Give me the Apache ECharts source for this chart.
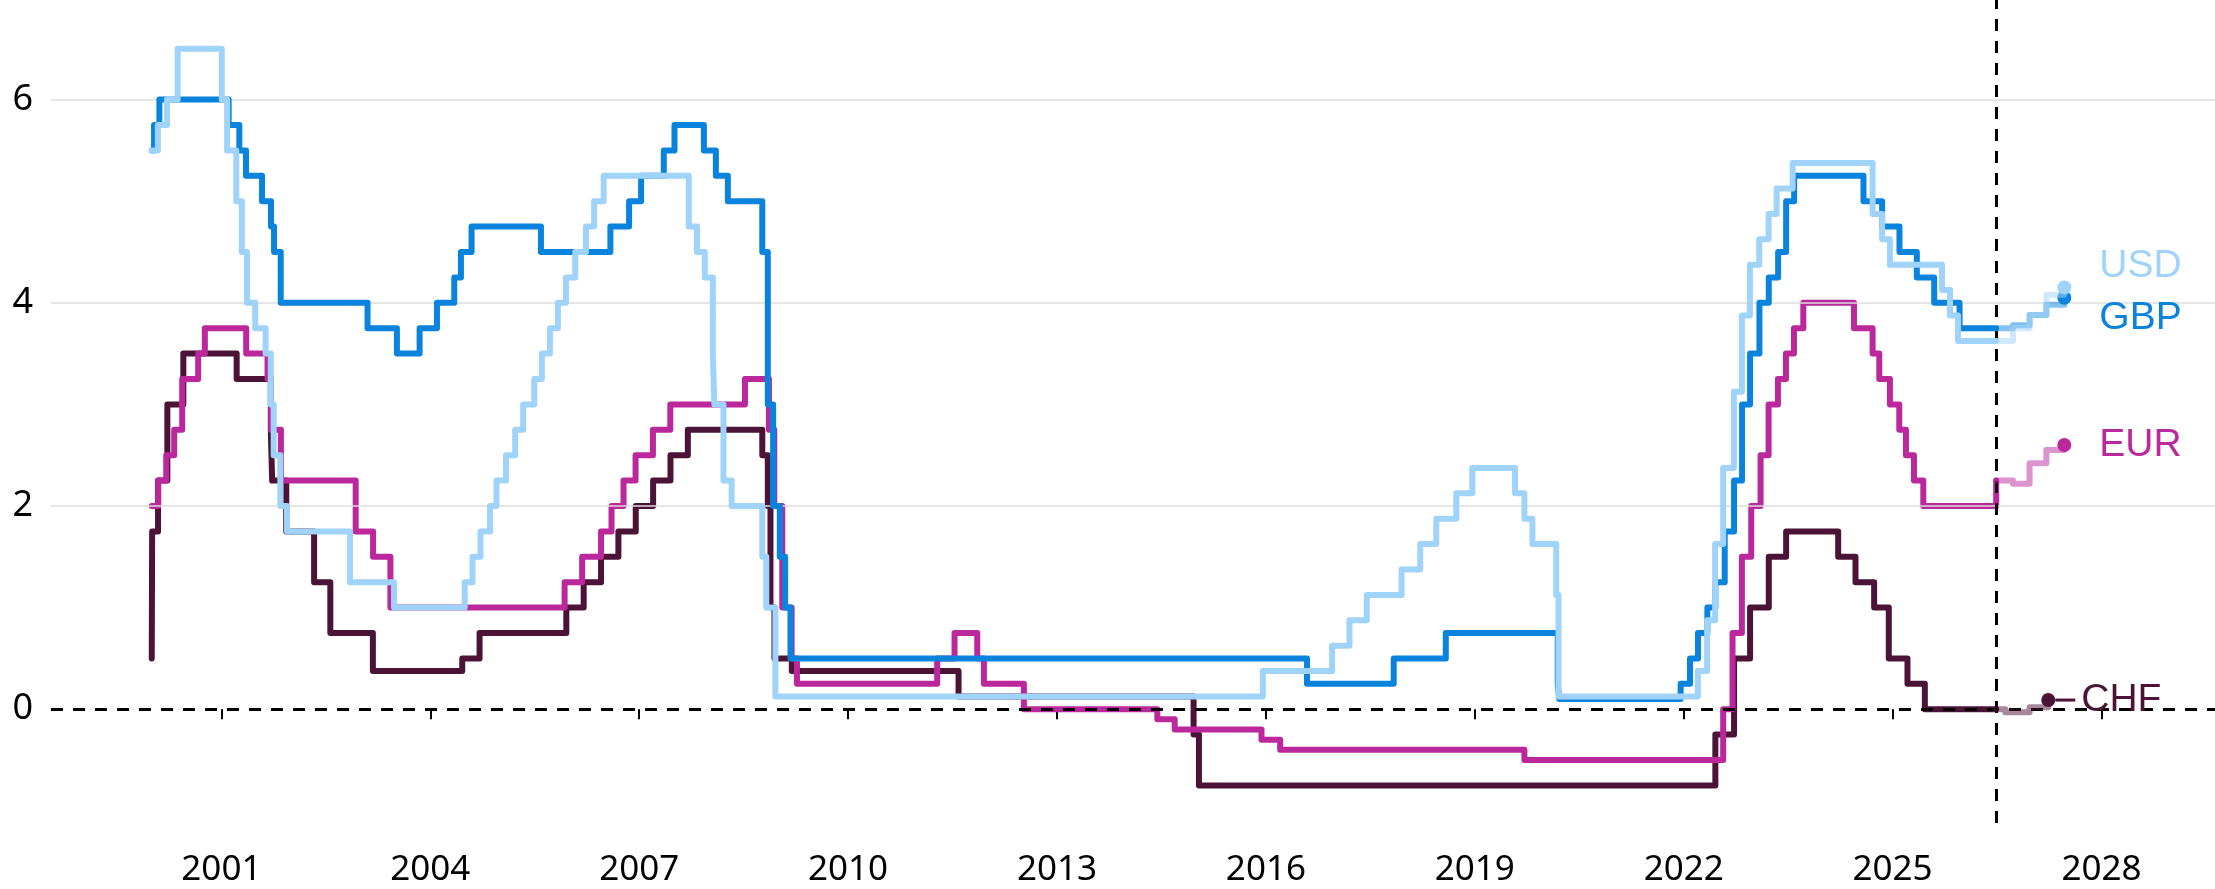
<!DOCTYPE html>
<html>
<head>
<meta charset="utf-8">
<script src="https://cdn.jsdelivr.net/npm/echarts@6/dist/echarts.min.js"></script>
<style>
  html, body { margin: 0; padding: 0; background: #fff; }
  #chart { width: 2215px; height: 889px; }
</style>
</head>
<body>
<div id="chart"></div>
<script>
// ---------------- data ----------------
const NOW = '2026-06-28';
const xTicks = [2001, 2004, 2007, 2010, 2013, 2016, 2019, 2022, 2025, 2028];
const yTicks = [0, 2, 4, 6];
const gridValues = [2, 4, 6];

const usdHist = [
  ['2000-01-01',5.5],['2000-02-02',5.75],['2000-03-21',6.0],['2000-05-16',6.5],['2001-01-03',6.0],['2001-01-31',5.5],
  ['2001-03-20',5.0],['2001-04-18',4.5],['2001-05-15',4.0],['2001-06-27',3.75],['2001-08-21',3.5],['2001-09-17',3.0],
  ['2001-10-02',2.5],['2001-11-06',2.0],['2001-12-11',1.75],['2002-11-06',1.25],['2003-06-25',1.0],['2004-06-30',1.25],
  ['2004-08-10',1.5],['2004-09-21',1.75],['2004-11-10',2.0],['2004-12-14',2.25],['2005-02-02',2.5],['2005-03-22',2.75],
  ['2005-05-03',3.0],['2005-06-30',3.25],['2005-08-09',3.5],['2005-09-20',3.75],['2005-11-01',4.0],['2005-12-13',4.25],
  ['2006-01-31',4.5],['2006-03-28',4.75],['2006-05-10',5.0],['2006-06-29',5.25],['2007-09-18',4.75],['2007-10-31',4.5],
  ['2007-12-11',4.25],['2008-01-22',3.5],['2008-01-30',3.0],['2008-03-18',2.25],['2008-04-30',2.0],['2008-10-08',1.5],
  ['2008-10-29',1.0],['2008-12-16',0.125],['2015-12-16',0.375],['2016-12-14',0.625],['2017-03-15',0.875],['2017-06-14',1.125],
  ['2017-12-13',1.375],['2018-03-21',1.625],['2018-06-13',1.875],['2018-09-26',2.125],['2018-12-19',2.375],['2019-07-31',2.125],
  ['2019-09-18',1.875],['2019-10-30',1.625],['2020-03-03',1.125],['2020-03-15',0.125],['2022-03-16',0.375],['2022-05-04',0.875],
  ['2022-06-15',1.625],['2022-07-27',2.375],['2022-09-21',3.125],['2022-11-02',3.875],['2022-12-14',4.375],['2023-02-01',4.625],
  ['2023-03-22',4.875],['2023-05-03',5.125],['2023-07-26',5.375],['2024-09-18',4.875],['2024-11-07',4.625],['2024-12-18',4.375],
  ['2025-09-17',4.125],['2025-10-29',3.875],['2025-12-10',3.625],[NOW,3.625]
];
const usdFcst = [[NOW,3.625],['2026-09-24',3.75],['2026-12-20',3.88],['2027-03-18',4.08],['2027-06-20',4.15]];

const gbpHist = [
  ['2000-01-01',5.5],['2000-01-13',5.75],['2000-02-10',6.0],['2001-02-08',5.75],['2001-04-05',5.5],['2001-05-10',5.25],
  ['2001-08-02',5.0],['2001-09-18',4.75],['2001-10-04',4.5],['2001-11-08',4.0],['2003-02-06',3.75],['2003-07-10',3.5],
  ['2003-11-06',3.75],['2004-02-05',4.0],['2004-05-06',4.25],['2004-06-10',4.5],['2004-08-05',4.75],['2005-08-04',4.5],
  ['2006-08-03',4.75],['2006-11-09',5.0],['2007-01-11',5.25],['2007-05-10',5.5],['2007-07-05',5.75],['2007-12-06',5.5],
  ['2008-02-07',5.25],['2008-04-10',5.0],['2008-10-08',4.5],['2008-11-06',3.0],['2008-12-04',2.0],['2009-01-08',1.5],
  ['2009-02-05',1.0],['2009-03-05',0.5],['2016-08-04',0.25],['2017-11-02',0.5],['2018-08-02',0.75],['2020-03-11',0.25],
  ['2020-03-19',0.1],['2021-12-16',0.25],['2022-02-03',0.5],['2022-03-17',0.75],['2022-05-05',1.0],['2022-06-16',1.25],
  ['2022-08-04',1.75],['2022-09-22',2.25],['2022-11-03',3.0],['2022-12-15',3.5],['2023-02-02',4.0],['2023-03-23',4.25],
  ['2023-05-11',4.5],['2023-06-22',5.0],['2023-08-03',5.25],['2024-08-01',5.0],['2024-11-07',4.75],['2025-02-06',4.5],
  ['2025-05-08',4.25],['2025-08-07',4.0],['2025-12-18',3.75],[NOW,3.75]
];
const gbpFcst = [[NOW,3.75],['2026-09-24',3.78],['2026-12-20',3.88],['2027-03-18',3.98],['2027-06-20',4.05]];

const eurHist = [
  ['2000-01-01',2.0],['2000-02-04',2.25],['2000-03-17',2.5],['2000-04-28',2.75],['2000-06-09',3.25],['2000-09-01',3.5],
  ['2000-10-06',3.75],['2001-05-11',3.5],['2001-08-31',3.25],['2001-09-18',2.75],['2001-11-09',2.25],['2002-12-06',1.75],
  ['2003-03-07',1.5],['2003-06-06',1.0],['2005-12-06',1.25],['2006-03-08',1.5],['2006-06-15',1.75],['2006-08-09',2.0],
  ['2006-10-11',2.25],['2006-12-13',2.5],['2007-03-14',2.75],['2007-06-13',3.0],['2008-07-09',3.25],['2008-11-12',2.75],
  ['2008-12-10',2.0],['2009-01-21',1.0],['2009-03-11',0.5],['2009-04-08',0.25],['2011-04-13',0.5],['2011-07-13',0.75],
  ['2011-11-09',0.5],['2011-12-14',0.25],['2012-07-11',0.0],['2014-06-11',-0.1],['2014-09-10',-0.2],['2015-12-09',-0.3],
  ['2016-03-16',-0.4],['2019-09-18',-0.5],['2022-07-27',0.0],['2022-09-14',0.75],['2022-11-02',1.5],['2022-12-21',2.0],
  ['2023-02-08',2.5],['2023-03-22',3.0],['2023-05-10',3.25],['2023-06-21',3.5],['2023-08-02',3.75],['2023-09-20',4.0],
  ['2024-06-12',3.75],['2024-09-18',3.5],['2024-10-23',3.25],['2024-12-18',3.0],['2025-02-05',2.75],['2025-03-12',2.5],
  ['2025-04-23',2.25],['2025-06-11',2.0],[NOW,2.25]
];
const eurFcst = [[NOW,2.25],['2026-09-24',2.22],['2026-12-20',2.42],['2027-03-18',2.55],['2027-06-20',2.6]];

const chfHist = [
  ['2000-01-01',0.5],['2000-01-03',1.75],['2000-02-03',2.25],['2000-03-23',3.0],['2000-06-15',3.5],['2001-03-22',3.25],
  ['2001-09-17',2.75],['2001-09-24',2.25],['2001-12-07',1.75],['2002-05-02',1.25],['2002-07-26',0.75],['2003-03-06',0.375],
  ['2004-06-17',0.5],['2004-09-16',0.75],['2005-12-15',1.0],['2006-03-16',1.25],['2006-06-15',1.5],['2006-09-14',1.75],
  ['2006-12-14',2.0],['2007-03-15',2.25],['2007-06-14',2.5],['2007-09-13',2.75],['2008-10-08',2.5],['2008-11-06',2.0],
  ['2008-11-20',1.0],['2008-12-11',0.5],['2009-03-12',0.375],['2011-08-03',0.125],['2014-12-18',-0.25],['2015-01-15',-0.75],
  ['2022-06-16',-0.25],['2022-09-22',0.5],['2022-12-15',1.0],['2023-03-23',1.5],['2023-06-22',1.75],['2024-03-21',1.5],
  ['2024-06-20',1.25],['2024-09-26',1.0],['2024-12-12',0.5],['2025-03-20',0.25],['2025-06-19',0.0],[NOW,0.0]
];
const chfFcst = [[NOW,0.0],['2026-08-15',-0.03],['2026-12-20',0.02],['2027-03-28',0.09]];

// ---------------- styling ----------------
const COLORS = { USD: '#9fd3fa', GBP: '#0a83dd', EUR: '#bb289c', CHF: '#4b1436' };
const TICK_FONT = '"Noto Sans", "Open Sans", sans-serif';
const LABEL_FONT = '"Liberation Sans", Arial, sans-serif';
const LINE_W = 6;

function yr(d) {
  const [y, m, dd] = d.split('-').map(Number);
  const s = Date.UTC(y, 0, 1), e = Date.UTC(y + 1, 0, 1);
  return y + (Date.UTC(y, m - 1, dd) - s) / (e - s);
}
const toXY = arr => arr.map(([d, v]) => [yr(d), v]);

function histSeries(name, arr, z) {
  return {
    name, type: 'line', step: 'end', data: toXY(arr),
    showSymbol: false, symbol: 'none', z,
    lineStyle: { color: COLORS[name], width: LINE_W, cap: 'round', join: 'round' },
    itemStyle: { color: COLORS[name] }
  };
}
function fcstSeries(name, arr, z, label) {
  const pts = toXY(arr);
  const data = pts.map((p, i) => {
    if (i < pts.length - 1) return { value: p };
    return {
      value: p, symbol: 'circle', symbolSize: 14,
      itemStyle: { color: COLORS[name], opacity: 1 },
      label: Object.assign({ show: true, position: 'right', color: COLORS[name],
        fontSize: 39, fontFamily: LABEL_FONT }, label)
    };
  });
  return {
    name: name + ' forecast', type: 'line', step: 'end', data,
    showSymbol: true, symbol: 'none', z,
    lineStyle: { color: COLORS[name], width: LINE_W, opacity: 0.5, cap: 'round', join: 'round' },
    itemStyle: { color: COLORS[name] }
  };
}

const gridLineData = gridValues.map(v => ({ yAxis: v, lineStyle: { color: '#dcdcdc', width: 1.5, type: 'solid' } }));

const option = {
  animation: false,
  backgroundColor: '#ffffff',
  grid: { left: 51, right: 0, top: 0, bottom: 66, containLabel: false },
  xAxis: {
    type: 'value', min: 1998.553, max: 2029.63,
    axisLine: { show: false },
    splitLine: { show: false },
    axisTick: { show: true, customValues: xTicks, length: 10, lineStyle: { color: '#000', width: 2 } },
    axisLabel: { customValues: xTicks, formatter: v => String(Math.round(v)), fontSize: 35,
      color: '#000', margin: 30, fontFamily: TICK_FONT }
  },
  yAxis: {
    type: 'value', min: -1.12, max: 6.98,
    axisLine: { show: false }, axisTick: { show: false }, splitLine: { show: false },
    axisLabel: { customValues: yTicks, fontSize: 36, color: '#000', margin: 18, fontFamily: TICK_FONT }
  },
  series: [
    {
      name: 'refs', type: 'line', data: [], z: 1, silent: true,
      markLine: {
        silent: true, symbol: 'none', label: { show: false },
        emphasis: { disabled: true },
        data: gridLineData.concat([
          { yAxis: 0, lineStyle: { color: '#000', width: 3, type: [12, 10] } },
          { xAxis: yr(NOW), lineStyle: { color: '#000', width: 3, type: [12, 10] } }
        ])
      }
    },
    histSeries('CHF', chfHist, 3),
    histSeries('EUR', eurHist, 4),
    histSeries('GBP', gbpHist, 5),
    histSeries('USD', usdHist, 6),
    fcstSeries('CHF', chfFcst, 7, {
      distance: 0,
      formatter: '{l|}{t|CHF}',
      rich: {
        l: { width: 20, height: 3, backgroundColor: COLORS.CHF },
        t: { fontSize: 39, color: COLORS.CHF, fontFamily: LABEL_FONT, padding: [0, 0, 0, 6] }
      }
    }),
    fcstSeries('EUR', eurFcst, 8, { distance: 28, formatter: 'EUR' }),
    fcstSeries('GBP', gbpFcst, 9, { distance: 28, formatter: 'GBP', offset: [0, 21] }),
    fcstSeries('USD', usdFcst, 10, { distance: 28, formatter: 'USD', offset: [0, -21] })
  ]
};

const chart = echarts.init(document.getElementById('chart'), null, { renderer: 'canvas' });
chart.setOption(option);
</script>
</body>
</html>
